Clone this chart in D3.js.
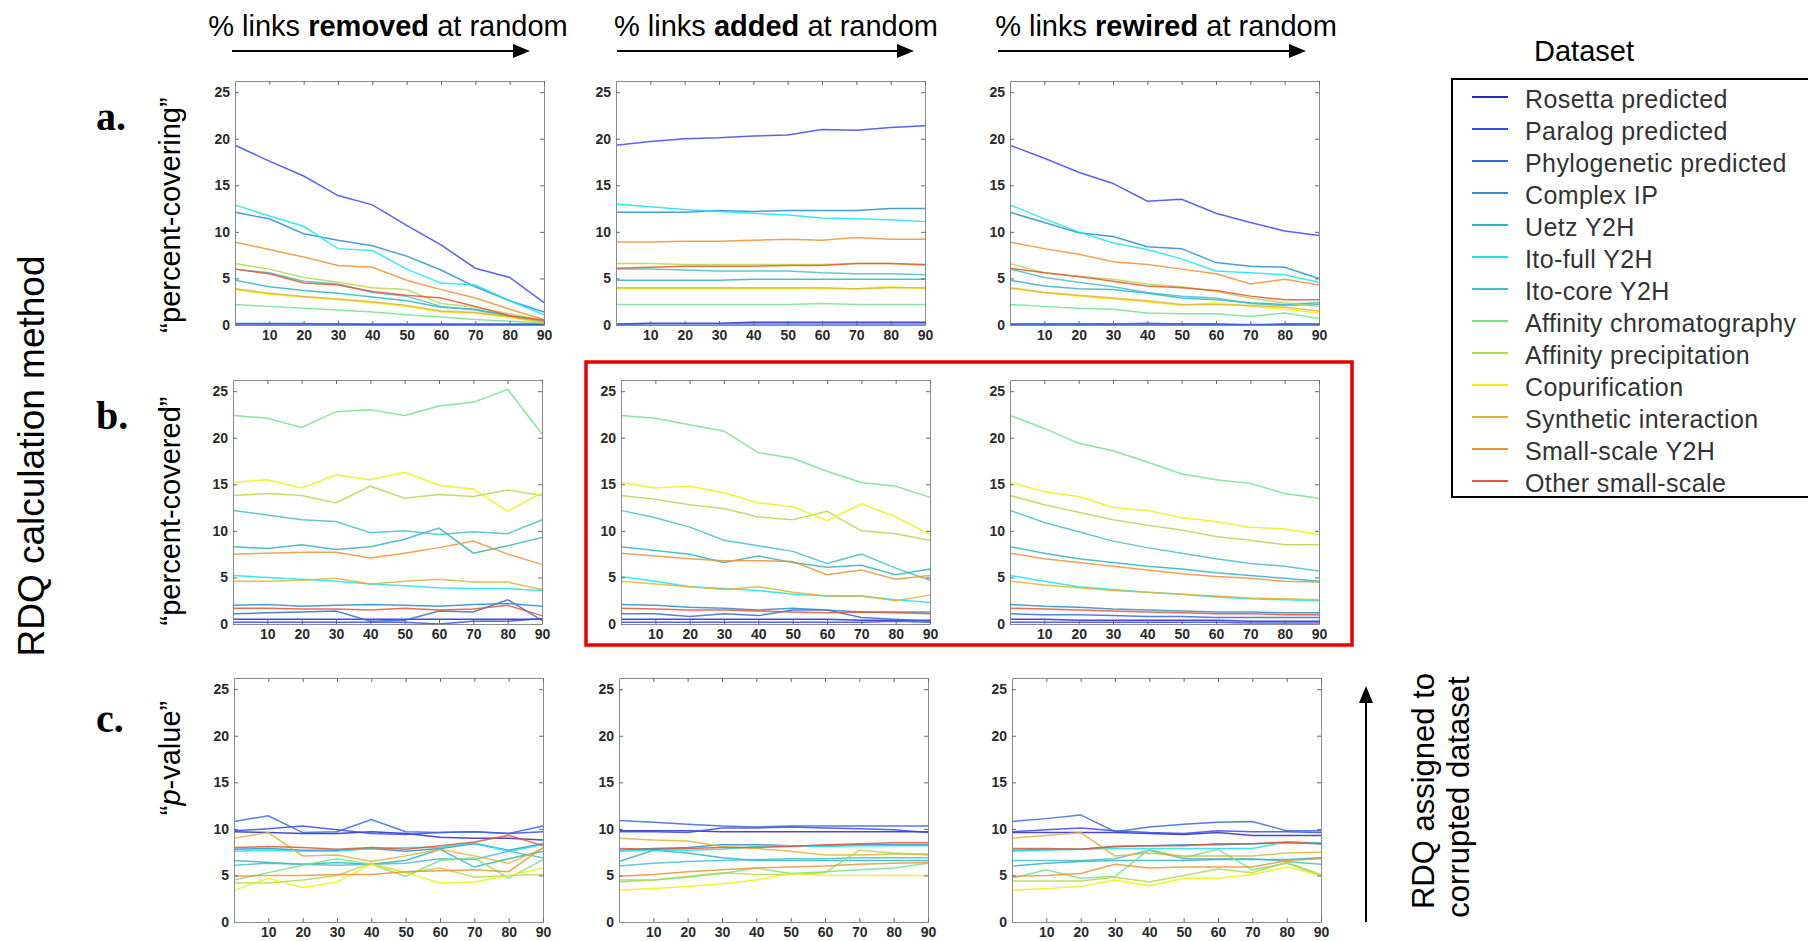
<!DOCTYPE html>
<html>
<head>
<meta charset="utf-8">
<script src="https://cdn.jsdelivr.net/npm/d3@7"></script>
<style>
  body { margin: 0; background: #fff; }
  svg text { font-family: "Liberation Sans", Arial, sans-serif; }
</style>
</head>
<body>
<svg id="fig" width="1808" height="941"></svg>
<script>

const xPercents = [0, 10, 20, 30, 40, 50, 60, 70, 80, 90];
const xTicks = [10, 20, 30, 40, 50, 60, 70, 80, 90];
const yTicks = [0, 5, 10, 15, 20, 25];

const datasetNames = ["Rosetta predicted", "Paralog predicted", "Phylogenetic predicted",
  "Complex IP", "Uetz Y2H", "Ito-full Y2H", "Ito-core Y2H", "Affinity chromatography",
  "Affinity precipitation", "Copurification", "Synthetic interaction", "Small-scale Y2H",
  "Other small-scale"];
const datasetColors = ["#2828c8", "#3a48f0", "#3468dc", "#2c8cd0", "#2cb4c4", "#14e6f0",
  "#48bcca", "#74e08c", "#b4d84c", "#f2f00a", "#e2b232", "#ee9232", "#e85430"];

const perturbations = ["removed", "added", "rewired"];
const rowLetters = ["a.", "b.", "c."];
const methodLabels = ["percent-covering", "percent-covered", "p-value"];

// rows follow datasetNames order
const coveringRemoved = [
  [0.1,0.1,0.1,0.1,0.05,0.05,0.05,0.05,0.05,0.05],
  [19.3,17.6,16.0,13.9,12.9,10.7,8.6,6.1,5.1,2.4],
  [0.15,0.15,0.15,0.1,0.1,0.1,0.1,0.1,0.1,0.1],
  [12.1,11.4,9.8,9.1,8.5,7.4,5.9,4.1,2.6,1.4],
  [4.8,4.1,3.7,3.4,3.0,2.6,1.9,1.7,1.0,0.4],
  [12.9,11.7,10.6,8.2,8.0,6.0,4.5,4.3,2.6,1.1],
  [6.0,5.6,4.7,4.4,3.5,3.1,2.0,1.6,0.9,0.4],
  [2.2,2.0,1.8,1.6,1.4,1.1,0.85,0.6,0.4,0.25],
  [6.6,6.0,5.1,4.6,4.0,3.8,2.3,1.9,1.2,0.5],
  [3.8,3.3,3.0,2.75,2.4,2.0,1.4,1.3,0.8,0.25],
  [3.9,3.4,3.05,2.8,2.5,2.1,1.5,1.35,0.9,0.3],
  [8.9,8.1,7.3,6.4,6.2,4.8,3.8,2.9,1.7,0.6],
  [6.0,5.5,4.5,4.3,3.6,3.2,2.9,2.0,1.0,0.5]
];
const coveringAdded = [
  [0.1,0.2,0.2,0.2,0.3,0.3,0.3,0.3,0.3,0.3],
  [19.3,19.7,20.0,20.1,20.3,20.4,21.0,20.9,21.2,21.4],
  [0.05,0.1,0.1,0.1,0.1,0.1,0.1,0.1,0.1,0.1],
  [12.1,12.1,12.1,12.3,12.2,12.3,12.3,12.3,12.5,12.5],
  [4.8,4.8,4.8,4.8,4.9,4.9,4.9,4.9,4.9,4.9],
  [13.0,12.7,12.4,12.2,12.0,11.8,11.5,11.4,11.3,11.1],
  [6.0,6.0,5.9,5.8,5.8,5.8,5.6,5.5,5.5,5.4],
  [2.2,2.2,2.2,2.2,2.2,2.2,2.3,2.2,2.2,2.2],
  [6.6,6.6,6.5,6.5,6.5,6.5,6.5,6.6,6.6,6.4],
  [3.9,3.9,3.9,3.9,3.9,3.9,3.9,3.9,4.1,3.9],
  [4.0,4.0,4.0,4.0,4.0,4.0,4.0,3.9,4.0,4.0],
  [8.9,8.9,9.0,9.0,9.1,9.2,9.1,9.4,9.2,9.2],
  [6.1,6.2,6.3,6.3,6.3,6.4,6.4,6.6,6.6,6.5]
];
const coveringRewired = [
  [0.1,0.1,0.1,0.1,0.1,0.1,0.1,0.0,0.1,0.1],
  [19.3,17.9,16.4,15.2,13.3,13.5,12.0,11.0,10.1,9.6],
  [0.05,0.05,0.05,0.1,0.2,0.1,0.05,0.05,0.05,0.05],
  [12.1,11.0,9.9,9.5,8.4,8.2,6.7,6.3,6.2,5.0],
  [4.8,4.2,3.9,3.8,3.4,2.9,2.7,2.4,2.2,2.4],
  [12.9,11.4,10.0,8.8,8.1,7.1,5.8,5.6,5.4,4.6],
  [6.0,5.1,4.6,4.1,3.5,3.1,2.9,2.3,2.1,2.2],
  [2.2,2.0,1.8,1.7,1.3,1.2,1.2,0.9,1.3,0.7],
  [6.6,5.6,5.2,4.9,4.4,4.1,3.6,2.9,2.4,2.0],
  [3.9,3.5,3.1,2.8,2.5,2.1,2.4,2.0,1.7,1.3],
  [4.0,3.5,3.2,2.9,2.6,2.2,2.2,2.1,1.9,1.5],
  [8.9,8.2,7.6,6.8,6.5,6.0,5.5,4.4,4.9,4.3],
  [6.1,5.6,5.2,4.7,4.2,4.0,3.7,3.1,2.7,2.7]
];

const coveredRemoved = [
  [0.5,0.5,0.5,0.5,0.5,0.5,0.5,0.5,0.5,0.5],
  [0.2,0.2,0.2,0.2,0.2,0.2,0.0,0.3,0.3,0.6],
  [1.1,1.2,1.3,1.4,0.3,0.4,1.4,1.3,2.6,0.4],
  [2.0,2.1,1.9,2.0,2.1,2.0,1.9,2.1,2.2,1.9],
  [8.3,8.1,8.5,8.0,8.3,9.1,10.3,7.6,8.4,9.3],
  [5.2,5.0,4.8,4.6,4.3,4.1,3.9,3.8,3.8,3.6],
  [12.2,11.7,11.2,11.0,9.8,10.0,9.6,9.9,9.7,11.2],
  [22.4,22.1,21.1,22.8,23.0,22.4,23.4,23.8,25.2,20.4],
  [13.8,14.0,13.8,13.0,14.8,13.5,13.9,13.7,14.4,13.8],
  [15.2,15.5,14.6,16.0,15.5,16.3,14.9,14.5,12.1,14.1],
  [4.6,4.6,4.7,4.9,4.3,4.6,4.8,4.5,4.5,3.7],
  [7.5,7.6,7.7,7.7,7.1,7.6,8.2,8.9,7.5,6.4],
  [1.7,1.7,1.6,1.6,1.5,1.7,1.5,1.6,2.0,0.9]
];
const coveredAdded = [
  [0.5,0.5,0.5,0.5,0.5,0.5,0.5,0.4,0.4,0.4],
  [0.2,0.2,0.2,0.2,0.2,0.2,0.2,0.2,0.3,0.2],
  [1.1,1.1,0.8,1.1,0.9,1.5,1.5,0.7,0.5,0.3],
  [2.1,2.0,1.8,1.7,1.5,1.7,1.5,1.3,1.3,1.3],
  [8.3,7.9,7.5,6.6,7.3,6.6,6.1,6.3,5.3,5.9],
  [5.1,4.6,4.0,3.8,3.6,3.2,3.0,3.0,2.6,2.3],
  [12.2,11.4,10.4,9.0,8.4,7.8,6.5,7.5,6.0,4.7],
  [22.4,22.1,21.4,20.7,18.4,17.8,16.4,15.2,14.8,13.6],
  [13.8,13.4,12.8,12.4,11.5,11.2,12.1,10.0,9.7,9.0],
  [15.2,14.6,14.8,14.1,13.0,12.6,11.1,12.9,11.5,9.6],
  [4.6,4.3,4.0,3.7,4.0,3.4,3.0,3.0,2.5,3.1],
  [7.6,7.3,7.0,6.8,6.8,6.7,5.3,5.8,4.8,5.2],
  [1.7,1.6,1.5,1.5,1.4,1.3,1.2,1.3,1.2,1.1]
];
const coveredRewired = [
  [0.5,0.5,0.4,0.4,0.4,0.4,0.4,0.3,0.3,0.3],
  [0.2,0.2,0.2,0.2,0.2,0.2,0.2,0.1,0.1,0.1],
  [1.1,1.0,1.0,0.9,0.8,0.8,0.7,0.7,0.7,0.7],
  [2.1,1.9,1.8,1.6,1.5,1.4,1.3,1.3,1.2,1.2],
  [8.3,7.6,7.0,6.6,6.2,5.9,5.5,5.2,4.9,4.6],
  [5.2,4.6,4.0,3.7,3.4,3.2,2.9,2.7,2.6,2.5],
  [12.2,10.9,9.9,8.9,8.2,7.6,7.0,6.5,6.2,5.7],
  [22.4,21.0,19.4,18.6,17.4,16.1,15.5,15.1,14.0,13.5],
  [13.8,12.8,12.0,11.2,10.6,10.1,9.4,9.0,8.5,8.5],
  [15.2,14.2,13.7,12.5,12.2,11.4,11.0,10.4,10.2,9.6],
  [4.6,4.2,3.9,3.6,3.4,3.2,3.0,2.8,2.7,2.6],
  [7.6,7.0,6.6,6.2,5.8,5.4,5.1,4.9,4.6,4.5],
  [1.7,1.6,1.5,1.4,1.3,1.2,1.1,1.1,1.0,1.0]
];

const pvalueRemoved = [
  [9.7,9.6,9.5,9.5,9.7,9.5,9.1,9.0,9.0,8.8],
  [9.8,10.0,10.3,9.9,9.5,9.4,9.6,9.7,9.5,9.7],
  [10.8,11.4,9.6,9.7,11.0,9.7,9.6,9.7,9.5,10.3],
  [7.8,7.9,7.7,7.7,7.9,7.6,7.9,8.4,7.7,8.4],
  [6.6,6.4,6.2,6.4,6.2,6.6,7.8,5.9,6.8,7.6],
  [7.6,7.7,7.6,7.6,7.9,8.0,8.0,8.5,7.6,8.3],
  [6.1,6.3,6.2,6.1,6.2,6.3,6.8,6.7,7.6,6.9],
  [4.5,5.3,6.1,6.8,6.2,4.9,6.6,6.9,4.7,6.7],
  [4.2,4.2,4.5,5.0,6.3,5.3,5.8,4.8,5.0,5.1],
  [3.4,4.7,3.7,4.3,6.2,5.3,4.2,4.3,5.0,5.8],
  [9.0,9.6,7.1,7.2,6.5,7.1,7.8,7.1,6.3,7.9],
  [4.9,5.0,5.0,5.1,5.1,5.4,5.5,5.6,5.4,8.0],
  [8.0,8.1,8.0,7.8,8.0,7.8,8.2,8.6,9.3,8.2]
];
const pvalueAdded = [
  [9.8,9.8,9.8,9.7,9.7,9.7,9.7,9.7,9.7,9.7],
  [9.7,9.7,9.6,10.1,10.1,10.2,10.1,10.0,9.9,9.6],
  [10.9,10.7,10.5,10.3,10.2,10.3,10.3,10.3,10.3,10.3],
  [7.7,7.9,8.0,8.3,8.3,8.2,8.2,8.3,8.3,8.3],
  [6.5,7.7,7.4,6.9,6.6,6.6,6.6,6.6,6.6,6.6],
  [7.6,7.7,7.7,7.8,8.1,8.2,8.1,8.2,8.2,8.2],
  [6.0,6.3,6.5,6.6,6.7,6.8,6.8,6.9,6.9,6.9],
  [4.5,4.5,4.8,5.2,5.8,5.2,5.4,5.6,5.8,6.3],
  [4.3,4.5,4.9,5.3,5.1,5.1,5.3,7.7,7.4,7.2],
  [3.4,3.6,3.8,4.1,4.5,5.2,5.0,5.0,5.0,5.0],
  [9.0,8.8,8.7,8.1,7.9,7.6,7.2,7.2,7.3,7.3],
  [4.9,5.1,5.4,5.6,5.8,5.9,6.0,6.2,6.3,6.4],
  [7.9,7.8,7.9,8.0,8.0,8.1,8.3,8.4,8.5,8.5]
];
const pvalueRewired = [
  [9.6,9.6,9.6,9.6,9.5,9.4,9.6,9.3,9.3,9.3],
  [9.7,9.9,10.1,9.8,9.6,9.5,9.8,9.7,9.7,9.6],
  [10.8,11.1,11.5,9.7,10.2,10.5,10.7,10.8,9.8,9.8],
  [7.7,7.8,7.8,8.1,8.2,8.3,8.3,8.4,8.5,8.4],
  [6.0,6.3,6.5,6.6,6.6,6.6,6.7,6.7,6.7,6.9],
  [7.6,7.7,7.8,7.9,7.9,7.9,7.9,7.9,8.6,8.5],
  [6.6,6.6,6.6,6.8,7.7,6.8,6.8,6.8,6.5,6.2],
  [4.7,5.6,4.7,4.9,7.8,6.9,7.8,5.6,6.3,5.0],
  [4.4,4.4,4.4,4.8,4.3,5.0,5.7,5.3,6.4,5.1],
  [3.4,3.6,3.8,4.5,3.9,4.7,4.7,5.1,5.9,5.0],
  [9.0,9.3,9.6,7.1,7.4,7.1,7.1,7.1,7.4,7.5],
  [4.9,5.0,5.2,6.2,5.8,5.9,5.9,5.9,6.6,6.8],
  [7.9,7.9,7.8,8.1,8.2,8.2,8.4,8.4,8.6,8.4]
];

const panelValues = [
  [coveringRemoved, coveringAdded, coveringRewired],
  [coveredRemoved, coveredAdded, coveredRewired],
  [pvalueRemoved, pvalueAdded, pvalueRewired]
];

/// layout /////

const panelW = 309, panelH = 244;
const rowTops = [81, 380, 678];
const colLefts = [[235, 616, 1010], [233, 621, 1010], [234, 619, 1012]];
const rowMid = [215, 511, 758];

let svg = d3.select("svg#fig");

let x = d3.scaleLinear().domain([0, 90]).range([0, panelW]);
let y = d3.scaleLinear().domain([0, 26.2]).range([panelH, 0]);

let line = d3.line()
  .x(function(d, i) { return x(xPercents[i]); })
  .y(function(d) { return y(d); });

function styleAxis(g) {
  g.selectAll("path.domain").attr("stroke", "#8a8a8a").attr("stroke-width", 1);
  g.selectAll(".tick line").attr("stroke", "#6a6a6a");
  g.selectAll(".tick text")
    .attr("fill", "#2a2a2a")
    .style("font-size", "14px")
    .style("font-weight", "bold");
}

function drawPanel(left, top, values) {

  let g = svg.append("g")
    .attr("class", "panel")
    .attr("transform", "translate(" + left + "," + top + ")");

  g.append("rect")
    .attr("width", panelW).attr("height", panelH)
    .attr("fill", "#fff");

  // series lines, first dataset at the back
  g.append("g").attr("class", "lines").selectAll("path")
    .data(values)
    .enter().append("path")
      .attr("d", function(d) { return line(d); })
      .attr("fill", "none")
      .attr("stroke", function(d, i) { return datasetColors[i]; })
      .attr("stroke-width", 1.5)
      .attr("stroke-opacity", 0.85);

  // box with inward ticks, matlab style
  g.append("g")
    .call(d3.axisLeft(y).tickValues(yTicks).tickSizeInner(-4).tickSizeOuter(0).tickPadding(5))
    .call(styleAxis);
  g.append("g")
    .attr("transform", "translate(" + panelW + ",0)")
    .call(d3.axisRight(y).tickValues(yTicks).tickSizeInner(-4).tickSizeOuter(0).tickFormat(""))
    .call(styleAxis);
  g.append("g")
    .attr("transform", "translate(0," + panelH + ")")
    .call(d3.axisBottom(x).tickValues(xTicks).tickSizeInner(-4).tickSizeOuter(0).tickPadding(5))
    .call(styleAxis);
  g.append("g")
    .call(d3.axisTop(x).tickValues(xTicks).tickSizeInner(-4).tickSizeOuter(0).tickFormat(""))
    .call(styleAxis);
}

for (let r = 0; r < 3; r++) {
  for (let c = 0; c < 3; c++) {
    drawPanel(colLefts[r][c], rowTops[r], panelValues[r][c]);
  }
}

/// column headers with arrows /////

const headerCenters = [388, 776, 1166];
const arrowSpans = [[232, 530], [617, 914], [998, 1306]];

function drawArrow(x1, y1, x2, y2) {
  let ang = Math.atan2(y2 - y1, x2 - x1);
  let len = 17, half = 7;
  let bx = x2 - len * Math.cos(ang), by = y2 - len * Math.sin(ang);
  svg.append("line")
    .attr("x1", x1).attr("y1", y1).attr("x2", bx).attr("y2", by)
    .attr("stroke", "#000").attr("stroke-width", 2);
  svg.append("path")
    .attr("d", "M" + x2 + "," + y2 +
               "L" + (bx - half * Math.sin(ang)) + "," + (by + half * Math.cos(ang)) +
               "L" + (bx + half * Math.sin(ang)) + "," + (by - half * Math.cos(ang)) + "Z")
    .attr("fill", "#000");
}

perturbations.forEach(function(p, i) {
  let t = svg.append("text")
    .attr("x", headerCenters[i]).attr("y", 36)
    .attr("text-anchor", "middle")
    .style("font-size", "29px")
    .attr("fill", "#000");
  t.append("tspan").text("% links ");
  t.append("tspan").style("font-weight", "bold").text(p);
  t.append("tspan").text(" at random");
  drawArrow(arrowSpans[i][0], 51, arrowSpans[i][1], 51);
});

/// row labels /////

svg.append("text")
  .attr("transform", "translate(44,456) rotate(-90)")
  .attr("text-anchor", "middle")
  .style("font-size", "37px")
  .text("RDQ calculation method");

rowLetters.forEach(function(l, i) {
  svg.append("text")
    .attr("x", 96).attr("y", [130, 429, 732][i])
    .style("font-family", "'Liberation Serif', 'Times New Roman', serif")
    .style("font-weight", "bold")
    .style("font-size", "40px")
    .text(l);
});

methodLabels.forEach(function(m, i) {
  let t = svg.append("text")
    .attr("transform", "translate(180," + rowMid[i] + ") rotate(-90)")
    .attr("text-anchor", "middle")
    .style("font-size", "29px");
  if (m === "p-value") {
    t.append("tspan").text("\u201c");
    t.append("tspan").style("font-style", "italic").text("p");
    t.append("tspan").text("-value\u201d");
  } else {
    t.text("\u201c" + m + "\u201d");
  }
});

/// right side: corrupted dataset arrow /////

drawArrow(1366, 922, 1366, 686);

svg.append("text")
  .attr("transform", "translate(1434,791) rotate(-90)")
  .attr("text-anchor", "middle")
  .style("font-size", "31px")
  .text("RDQ assigned to");
svg.append("text")
  .attr("transform", "translate(1469,797) rotate(-90)")
  .attr("text-anchor", "middle")
  .style("font-size", "31px")
  .text("corrupted dataset");

/// highlight box around b. added / rewired /////

svg.append("rect")
  .attr("x", 586).attr("y", 362)
  .attr("width", 766).attr("height", 283)
  .attr("fill", "none")
  .attr("stroke", "#e60000")
  .attr("stroke-width", 3.5);

/// legend /////

svg.append("text")
  .attr("x", 1584).attr("y", 61)
  .attr("text-anchor", "middle")
  .style("font-size", "29px")
  .text("Dataset");

let legend = svg.append("g").attr("class", "legend");

legend.append("rect")
  .attr("x", 1452).attr("y", 79)
  .attr("width", 420).attr("height", 418)
  .attr("fill", "#fff")
  .attr("stroke", "#000")
  .attr("stroke-width", 2);

let items = legend.selectAll("g.item")
  .data(datasetNames)
  .enter().append("g")
    .attr("class", "item")
    .attr("transform", function(d, i) { return "translate(0," + (32 * i) + ")"; });

items.append("line")
  .attr("x1", 1472).attr("x2", 1508)
  .attr("y1", 97).attr("y2", 97)
  .attr("stroke", function(d, i) { return datasetColors[i]; })
  .attr("stroke-width", 2);

items.append("text")
  .attr("x", 1525).attr("y", 108)
  .style("font-size", "25px")
  .style("letter-spacing", "0.4px")
  .attr("fill", "#333")
  .text(function(d) { return d; });

</script>
</body>
</html>
